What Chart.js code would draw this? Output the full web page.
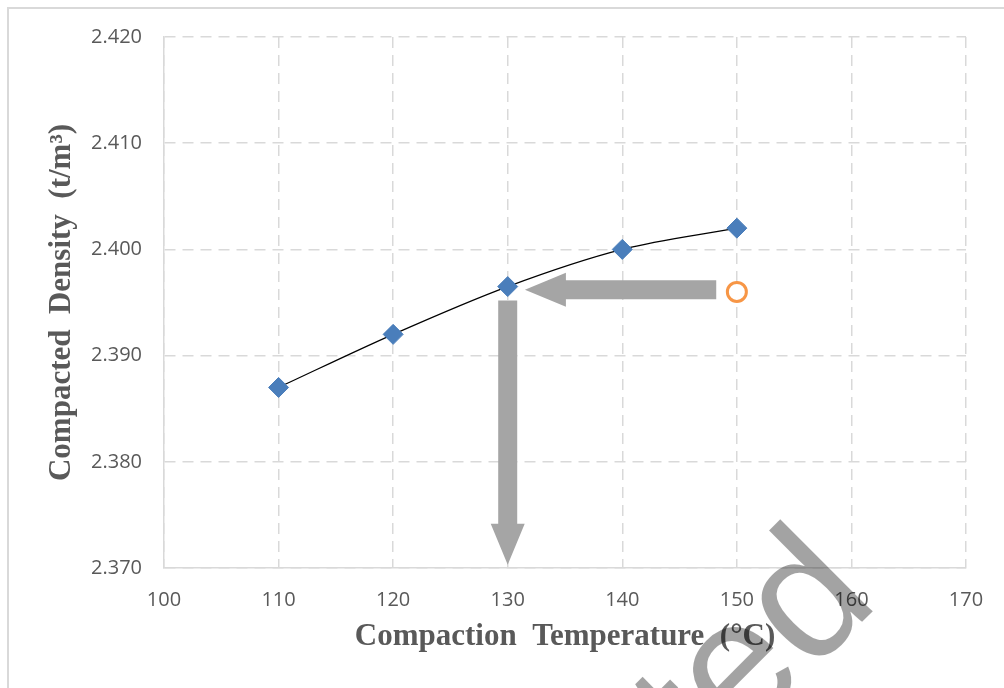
<!DOCTYPE html>
<html>
<head>
<meta charset="utf-8">
<script src="https://cdn.jsdelivr.net/npm/chart.js@4/dist/chart.umd.min.js"></script>
<style>
  html, body { margin: 0; padding: 0; background: #fff; }
  #chart { display: block; }
</style>
</head>
<body>
<canvas id="chart" width="1004" height="688"></canvas>
<script>
// ── Data ─────────────────────────────────────────────────────────────
const temps          = [110, 120, 130, 140, 150];
const density        = [2.387, 2.392, 2.3965, 2.400, 2.402];
const measuredTemp   = [150];
const measuredDens   = [2.396];

const xTicks = [100, 110, 120, 130, 140, 150, 160, 170];
const yTicks = [2.370, 2.380, 2.390, 2.400, 2.410, 2.420];

// arrows: read-off helper (horizontal then vertical), in data units
const arrowFromX = [148.2, 130.0];
const arrowFromY = [2.3962, 2.3952];
const arrowToX   = [131.5, 130.0];
const arrowToY   = [2.3962, 2.3703];

const GRID  = '#d9d9d9';
const LABEL = '#595959';

const pageFrame = {
  id: 'pageFrame',
  beforeDraw(chart) {
    const { ctx, width, height } = chart;
    ctx.save();
    ctx.fillStyle = '#fff';
    ctx.fillRect(0, 0, width, height);
    ctx.strokeStyle = GRID;
    ctx.lineWidth = 2;
    ctx.beginPath();
    ctx.moveTo(8, height);
    ctx.lineTo(8, 8);
    ctx.lineTo(width, 8);
    ctx.stroke();
    ctx.restore();
  }
};

const arrows = {
  id: 'arrows',
  afterDatasetsDraw(chart) {
    const { ctx, scales: { x, y } } = chart;
    const sw = 9.5, hw = 17, hl = 41;
    ctx.save();
    ctx.fillStyle = '#a5a5a5';
    for (let i = 0; i < arrowFromX.length; i++) {
      const x1 = x.getPixelForValue(arrowFromX[i]);
      const y1 = y.getPixelForValue(arrowFromY[i]);
      const x2 = x.getPixelForValue(arrowToX[i]);
      const y2 = y.getPixelForValue(arrowToY[i]);
      const len = Math.hypot(x2 - x1, y2 - y1);
      ctx.save();
      ctx.translate(x1, y1);
      ctx.rotate(Math.atan2(y2 - y1, x2 - x1));
      ctx.beginPath();
      ctx.moveTo(0, -sw);
      ctx.lineTo(len - hl, -sw);
      ctx.lineTo(len - hl, -hw);
      ctx.lineTo(len, 0);
      ctx.lineTo(len - hl, hw);
      ctx.lineTo(len - hl, sw);
      ctx.lineTo(0, sw);
      ctx.closePath();
      ctx.fill();
      ctx.restore();
    }
    ctx.restore();
  }
};

// document watermark that sits over the figure
const watermark = {
  id: 'watermark',
  afterDraw(chart) {
    const { ctx } = chart;
    ctx.save();
    ctx.translate(881, 603);
    ctx.rotate(-Math.PI / 4);
    ctx.font = '180px "Liberation Sans", Arial, sans-serif';
    ctx.textAlign = 'right';
    ctx.textBaseline = 'alphabetic';
    ctx.fillStyle = 'rgba(0,0,0,0.36)';
    ctx.fillText('Retracted', 0, 0);
    ctx.restore();
  }
};

const tickFont  = { family: '"Open Sans", sans-serif', size: 20 };
const titleFont = { family: '"Liberation Serif", "Times New Roman", serif', size: 31, weight: 'bold' };

new Chart(document.getElementById('chart'), {
  type: 'scatter',
  data: {
    datasets: [
      {
        label: 'Compacted density',
        data: temps.map((t, i) => ({ x: t, y: density[i] })),
        pointStyle: 'rectRot',
        pointRadius: 10,
        backgroundColor: '#4a7ebb',
        borderColor: '#4a7ebb',
        borderWidth: 1,
      },
      {
        label: 'Measured',
        data: measuredTemp.map((t, i) => ({ x: t, y: measuredDens[i] })),
        pointStyle: 'circle',
        pointRadius: 9.5,
        backgroundColor: '#fff',
        borderColor: '#f79646',
        borderWidth: 3,
      },
      {
        label: 'Trend',
        data: temps.map((t, i) => ({ x: t, y: density[i] })),
        showLine: true,
        borderColor: '#000',
        borderWidth: 1.2,
        pointRadius: 0,
        tension: 0.4,
        cubicInterpolationMode: 'monotone',
      },
    ]
  },
  options: {
    responsive: false,
    animation: false,
    devicePixelRatio: 1,
    layout: { padding: { left: 0, top: 37, right: 38, bottom: 0 } },
    plugins: {
      legend: { display: false },
      tooltip: { enabled: false },
    },
    scales: {
      x: {
        type: 'linear',
        min: 100,
        max: 170,
        afterBuildTicks: s => { s.ticks = xTicks.map(v => ({ value: v })); },
        afterFit: s => { s.height = 120; },
        grid: { color: GRID, lineWidth: 1.5, drawTicks: false },
        border: { display: true, color: GRID, width: 1.5, dash: [11, 7] },
        ticks: { autoSkip: false, padding: 20, color: LABEL, font: tickFont },
        title: {
          display: true,
          text: 'Compaction  Temperature  (°C)',
          color: LABEL,
          font: titleFont,
          padding: { top: 0, bottom: 32 },
        },
      },
      y: {
        type: 'linear',
        min: 2.37,
        max: 2.42,
        afterBuildTicks: s => { s.ticks = yTicks.map(v => ({ value: v })); },
        afterFit: s => { s.width = 164; },
        grid: { color: GRID, lineWidth: 1.5, drawTicks: false },
        border: { display: true, color: GRID, width: 1.5, dash: [11, 7] },
        ticks: { padding: 22, color: LABEL, font: tickFont, callback: v => v.toFixed(3) },
        title: {
          display: true,
          text: 'Compacted  Density  (t/m³)',
          color: LABEL,
          font: titleFont,
          padding: { top: 43, bottom: 0 },
        },
      },
    },
  },
  plugins: [pageFrame, arrows, watermark],
});
</script>
</body>
</html>
